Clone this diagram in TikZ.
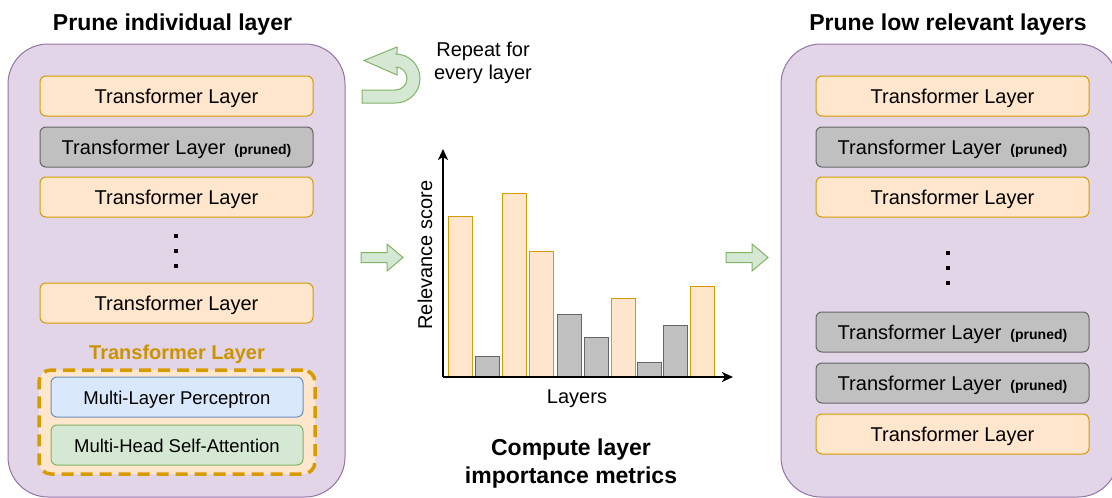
\documentclass[tikz,border=0pt]{standalone}
\usepackage{fontspec}
\setmainfont{Liberation Sans}
\usetikzlibrary{arrows.meta}

\definecolor{panelfill}{HTML}{E1D5E7}
\definecolor{panelline}{HTML}{9673A6}
\definecolor{layerfill}{HTML}{FFE6CC}
\definecolor{layerline}{HTML}{D79B00}
\definecolor{prunedfill}{HTML}{C0C0C0}
\definecolor{prunedline}{HTML}{666666}
\definecolor{mlpfill}{HTML}{DAE8FC}
\definecolor{mlpline}{HTML}{6C8EBF}
\definecolor{greenfill}{HTML}{D5E8D4}
\definecolor{greenline}{HTML}{82B366}
\definecolor{headtext}{HTML}{CC9300}

\newcommand{\prunedtag}{\hspace{9pt}{\fontsize{14}{16}\selectfont\bfseries(pruned)}}

\begin{document}
\begin{tikzpicture}[x=1pt,y=1pt,yscale=-1,
  panel/.style={draw=panelline, fill=panelfill, line width=1pt, rounded corners=40pt},
  title/.style={anchor=base, font=\fontsize{23}{28}\selectfont\bfseries},
  layerbox/.style={draw=layerline, fill=layerfill, line width=1pt, rounded corners=6pt,
    minimum width=273pt, minimum height=40pt, inner sep=0pt,
    text height=15pt, text depth=1pt, font=\fontsize{20}{24}\selectfont},
  prunedbox/.style={layerbox, draw=prunedline, fill=prunedfill},
  subbox/.style={line width=1pt, rounded corners=6pt, minimum width=252pt, minimum height=40pt,
    inner sep=0pt, text height=15pt, text depth=1pt, font=\fontsize{18.5}{22}\selectfont},
  dot/.style={fill=black, inner sep=0pt, minimum size=4pt},
  greenshape/.style={draw=greenline, fill=greenfill, line width=1pt},
  axis/.style={line width=2pt, -{Stealth[length=11pt,width=10pt,inset=3pt]}},
  keptbar/.style={draw=layerline, fill=layerfill, line width=1pt},
  cutbar/.style={draw=prunedline, fill=prunedfill, line width=1pt},
  plain/.style={font=\fontsize{20}{23}\selectfont, inner sep=0pt}]

\clip (0,0) rectangle (1112,498);

% ---------- left panel: prune individual layer ----------
\node[title] (ltitle) at (172.5,30) {Prune individual layer};
\draw[panel] (8,44) rectangle (345,497);
\node[layerbox]  (l1) at (176.5,96)  {Transformer Layer};
\node[prunedbox] (l2) at (176.5,147) {Transformer Layer\prunedtag};
\node[layerbox]  (l3) at (176.5,197) {Transformer Layer};
\node[dot] (ld1) at (176,236) {};
\node[dot] (ld2) at (176,251) {};
\node[dot] (ld3) at (176,266) {};
\node[layerbox]  (l4) at (176.5,303) {Transformer Layer};

\node[anchor=base, text=headtext, font=\fontsize{20}{24}\selectfont\bfseries] (thead) at (177,359) {Transformer Layer};
\node[draw=layerline, fill=layerfill, line width=3.5pt, dash pattern=on 12pt off 7pt,
  rounded corners=12pt, minimum width=276pt, minimum height=104pt] (tlayer) at (177,422) {};
\node[subbox, draw=mlpline, fill=mlpfill] (mlp) at (177,397) {Multi-Layer Perceptron};
\node[subbox, draw=greenline, fill=greenfill] (mhsa) at (177,445) {Multi-Head Self-Attention};

% ---------- repeat marker (u-turn block arrow) ----------
\draw[greenshape]
  (364,60.5) -- (397,47) -- (397,54) -- (395.5,54)
  arc[start angle=-90, end angle=90, radius=24.5pt]
  -- (362,103) -- (362,90) -- (395.5,90)
  arc[start angle=90, end angle=-90, radius=11.5pt]
  -- (397,67) -- (397,75) -- cycle;
\node[plain, align=center] (repeat) at (483,63.3) {Repeat for\\every layer};

% ---------- block arrows between the stages ----------
\foreach \ax in {361,726}
  \draw[greenshape] (\ax,252.5) -- (\ax+26,252.5) -- (\ax+26,244) -- (\ax+42,257.5)
    -- (\ax+26,271) -- (\ax+26,262.5) -- (\ax,262.5) -- cycle;

% ---------- middle: relevance chart ----------
\coordinate (origin) at (443,377);
\coordinate (ytop) at (443,149);
\coordinate (xend) at (733,377);
\foreach \x/\top/\kind in {448/216/keptbar, 475/356/cutbar, 502/193/keptbar, 529/251/keptbar,
  557/314/cutbar, 584/337/cutbar, 611/298/keptbar, 637/362/cutbar, 663/325/cutbar, 690/286/keptbar}
  \draw[\kind] (\x,377) rectangle (\x+24,\top);
\draw[axis] (origin) -- (ytop);
\draw[axis] (origin) -- (xend);
\node[plain, anchor=base, rotate=90] (ylabel) at (432,255) {Relevance score};
\node[plain, anchor=base] (xlabel) at (577,403) {Layers};

\node[align=center, inner sep=0pt, font=\fontsize{23}{28}\selectfont\bfseries] (ctitle) at (571,464)
  {Compute layer\\importance metrics};

% ---------- right panel: prune low relevant layers ----------
\node[title] (rtitle) at (948,30) {Prune low relevant layers};
\draw[panel] (781,44) rectangle (1118,497);
\node[layerbox]  (r1) at (952.5,96)  {Transformer Layer};
\node[prunedbox] (r2) at (952.5,147) {Transformer Layer\prunedtag};
\node[layerbox]  (r3) at (952.5,197) {Transformer Layer};
\node[dot] (rd1) at (948,253) {};
\node[dot] (rd2) at (948,268) {};
\node[dot] (rd3) at (948,283) {};
\node[prunedbox] (r4) at (952.5,332) {Transformer Layer\prunedtag};
\node[prunedbox] (r5) at (952.5,383) {Transformer Layer\prunedtag};
\node[layerbox]  (r6) at (952.5,434) {Transformer Layer};

\end{tikzpicture}
\end{document}
